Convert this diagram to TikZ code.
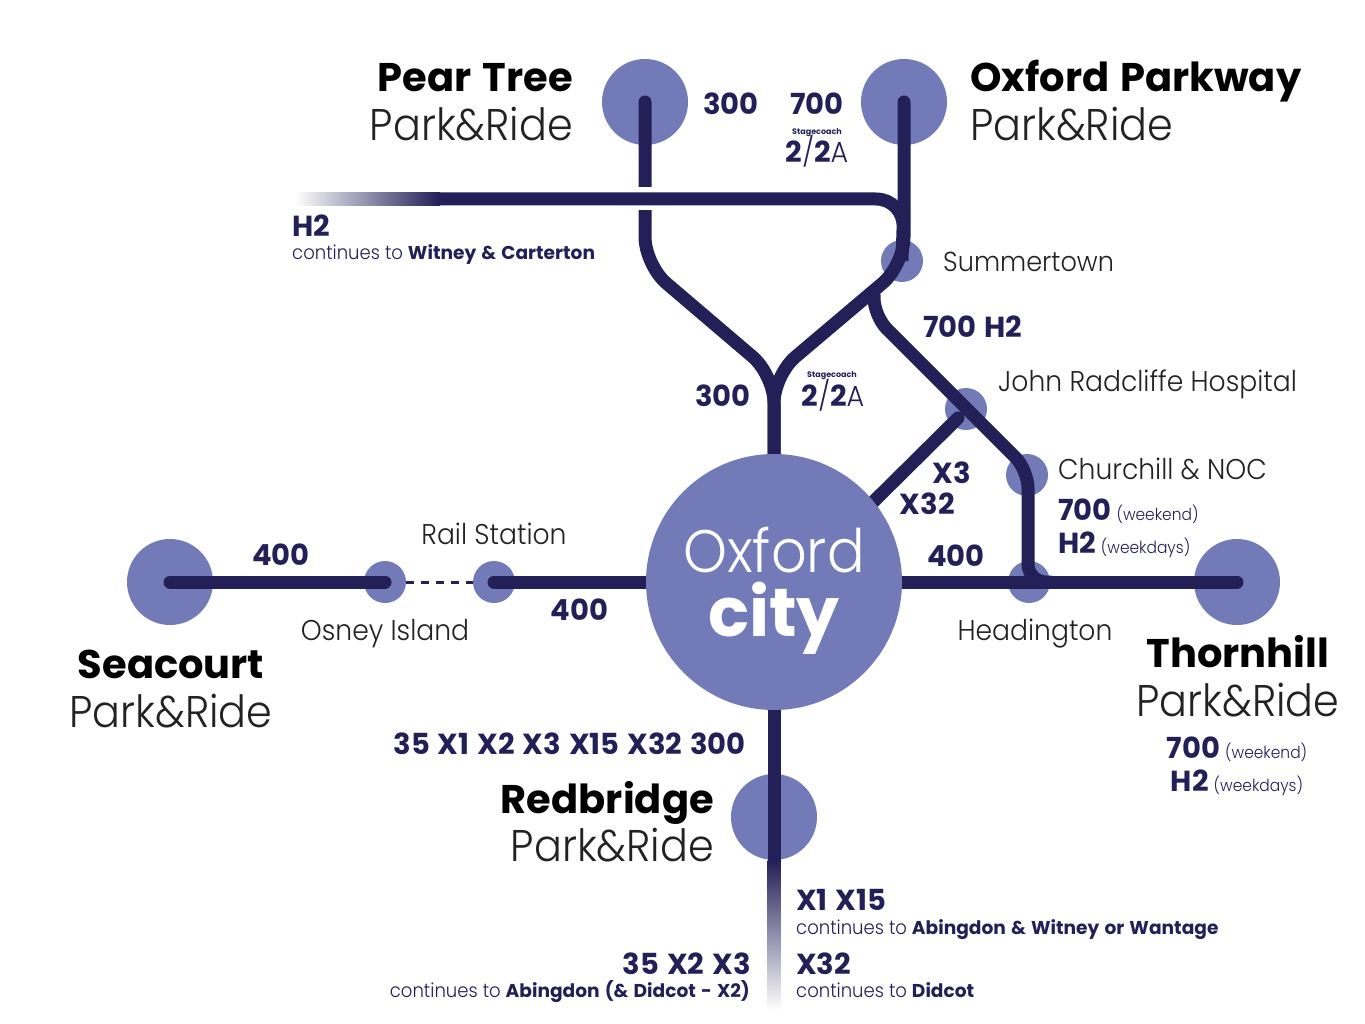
\documentclass[tikz,border=0pt]{standalone}
\usepackage{fontspec}
\setmainfont{Poppins}[UprightFont=*-Light,BoldFont=*-Bold,UprightFeatures={FakeStretch=0.93},BoldFeatures={WordSpace=1.3}]
\usetikzlibrary{positioning}
\definecolor{routeblue}{HTML}{231F57}
\definecolor{stopblue}{HTML}{737AB8}
\definecolor{labelgrey}{HTML}{222222}
\tikzset{
	stop/.style={circle,fill=stopblue,inner sep=0pt,minimum size=42pt},
	parkride/.style={circle,fill=stopblue,inner sep=0pt,minimum size=86pt},
	route/.style={line width=13pt,draw=routeblue,line cap=round,rounded corners=28pt},
	routelabel/.style={text=routeblue,font=\fontsize{29}{30}\selectfont\bfseries,inner sep=0pt},
	stoplabel/.style={text=labelgrey,font=\fontsize{28.6}{30}\selectfont,inner sep=0pt},
	prname/.style={text=black,font=\fontsize{40}{42}\selectfont\bfseries,inner sep=0pt},
	prsub/.style={text=labelgrey,font=\fontsize{44.4}{46}\selectfont,inner sep=0pt},
	smalllabel/.style={text=routeblue,font=\fontsize{19.4}{22}\selectfont,inner sep=0pt},
	coachlabel/.style={text=routeblue,font=\fontsize{8}{9}\selectfont\bfseries,inner sep=0pt}
}
\newcommand{\whentext}[1]{\hspace{-3pt}{\fontsize{16.6}{18}\selectfont\mdseries #1}}
\newcommand{\placename}[1]{{\fontsize{18.6}{22}\selectfont\bfseries #1}}
\newcommand{\coachno}{2{\mdseries/}2{\mdseries A}}
\begin{document}
\begin{tikzpicture}[x=1pt, y=-1pt]
	\useasboundingbox (0,0) rectangle (1365,1024);
	% stops
	\begin{scope}
		\node[parkride] (peartree) at (645,102) {};
		\node[parkride] (parkway) at (904,102) {};
		\node[parkride] (seacourt) at (170,582) {};
		\node[parkride] (thornhill) at (1237,582) {};
		\node[parkride] (redbridge) at (774,817) {};
		\node[stop] (summertown) at (902,261) {};
		\node[stop] (jr) at (966,409) {};
		\node[stop] (churchill) at (1027,475) {};
		\node[stop] (headington) at (1029,582) {};
		\node[stop] (osney) at (385,582) {};
		\node[stop] (rail) at (494,582) {};
	\end{scope}
	% bends
	\coordinate (a1) at (645,265);
	\coordinate (merge) at (774,375);
	\coordinate (a2) at (904,265);
	\coordinate (split) at (874,295);
	\coordinate (b1) at (874,316);
	\coordinate (b2) at (1028,470);
	\coordinate (b3) at (1028,582);
	\coordinate (h1) at (904,199);
	\coordinate (h2) at (440,199);
	\coordinate (h3) at (295,192.5);
	\coordinate (h4) at (440,205.5);
	\coordinate (s1) at (767.5,860);
	\coordinate (s2) at (780.5,1010);
	\coordinate (x3) at (958,418);
	\coordinate (south) at (774,862);
	\coordinate (cityn) at (774,470);
	\coordinate (citys) at (774,700);
	\coordinate (cityne) at (865,510);
	\coordinate (cityw) at (660,582);
	\coordinate (citye) at (890,582);
	% routes
	\draw[route] (peartree.center) -- (a1) -- (merge) -- (cityn);
	\draw[route] (parkway.center) -- (a2) -- (merge) -- (cityn);
	\draw[route,rounded corners=18pt] (split) -- (b1) -- (b2) -- (b3) -- (headington.east);
	\draw[route] (x3) -- (cityne);
	\draw[route] (seacourt.center) -- (osney.center);
	\draw[line width=3pt,routeblue,dash pattern=on 8pt off 7pt] (osney.east) -- (rail.west);
	\draw[route] (rail.center) -- (cityw);
	\draw[route] (citye) -- (thornhill.center);
	\draw[route,line cap=butt] (citys) -- (south);
	\shade[top color=routeblue,bottom color=white] (s1) rectangle (s2);
	\draw[white,line width=23pt] (620,199) -- (670,199);
	\shade[left color=white,right color=routeblue] (h3) rectangle (h4);
	\draw[route,line cap=butt] (h2) -- (h1) -- (summertown.center);
	\node[circle,fill=stopblue,inner sep=0pt,minimum size=256pt] (city) at (774,582) {};
	\node[text=white,font=\fontsize{60}{60}\selectfont,anchor=base,inner sep=0pt] (cityname) at (774,572) {Oxford};
	\node[text=white,font=\fontsize{68}{68}\selectfont\bfseries,anchor=base,inner sep=0pt] (citycity) at (774,636) {city};
	% park and ride names
	\node[prname,anchor=base east] (peartreea) at (573,92) {Pear Tree};
	\node[prsub,anchor=base east] (peartreeb) at (573,141) {Park\&Ride};
	\node[prname,anchor=base west] (parkwaya) at (970,92) {Oxford Parkway};
	\node[prsub,anchor=base west] (parkwayb) at (970,141) {Park\&Ride};
	\node[prname,anchor=base] (seacourta) at (171,678) {Seacourt};
	\node[prsub,anchor=base] (seacourtb) at (171,727) {Park\&Ride};
	\node[prname,anchor=base] (thornhilla) at (1238,667) {Thornhill};
	\node[prsub,anchor=base] (thornhillb) at (1238,716) {Park\&Ride};
	\node[prname,anchor=base east] (redbridgea) at (714,813) {Redbridge};
	\node[prsub,anchor=base east] (redbridgeb) at (714,861) {Park\&Ride};
	% stop names
	\node[stoplabel,anchor=base west,font=\fontsize{27.5}{30}\selectfont] (summertownl) at (943,272) {Summertown};
	\node[stoplabel,anchor=base west] (jrl) at (998,391) {John Radcliffe Hospital};
	\node[stoplabel,anchor=base west] (churchilll) at (1058,479) {Churchill \& NOC};
	\node[stoplabel,anchor=base] (headingtonl) at (1035,640) {Headington};
	\node[stoplabel,anchor=base] (raill) at (494,544) {Rail Station};
	\node[stoplabel,anchor=base] (osneyl) at (385,640) {Osney Island};
	% route numbers
	\node[routelabel,anchor=base] (r300a) at (731,115) {300};
	\node[routelabel,anchor=base] (r700a) at (817,115) {700};
	\node[coachlabel,anchor=base] (coacha) at (817,135) {Stagecoach};
	\node[routelabel,anchor=base] (r2a) at (817,163) {\coachno};
	\node[routelabel,anchor=base west] (rh2) at (292,237) {H2};
	\node[smalllabel,anchor=base west] (rh2b) at (292,260) {continues to \placename{Witney \& Carterton}};
	\node[routelabel,anchor=base west] (r700h2) at (923,337) {700 H2};
	\node[routelabel,anchor=base east] (r300b) at (751,406) {300};
	\node[coachlabel,anchor=base] (coachb) at (832,377) {Stagecoach};
	\node[routelabel,anchor=base] (r2b) at (833,406) {\coachno};
	\node[routelabel,anchor=base east] (rx3) at (971,483) {X3};
	\node[routelabel,anchor=base east] (rx32) at (955,514) {X32};
	\node[routelabel,anchor=base] (r400e) at (956,566) {400};
	\node[routelabel,anchor=base west] (r700c) at (1058,520) {700 \whentext{(weekend)}};
	\node[routelabel,anchor=base west] (rh2c) at (1058,553) {H2 \whentext{(weekdays)}};
	\node[routelabel,anchor=base] (r700d) at (1237,758) {700 \whentext{(weekend)}};
	\node[routelabel,anchor=base] (rh2d) at (1237,791) {H2 \whentext{(weekdays)}};
	\node[routelabel,anchor=base] (r400w) at (281,565) {400};
	\node[routelabel,anchor=base] (r400m) at (579.5,620) {400};
	\node[routelabel,anchor=base east] (rsouth) at (746,754) {35 X1 X2 X3 X15 X32 300};
	\node[routelabel,anchor=base west] (rx1) at (796,910) {X1 X15};
	\node[smalllabel,anchor=base west] (rx1b) at (796,934) {continues to \placename{Abingdon \& Witney or Wantage}};
	\node[routelabel,anchor=base west] (rx32b) at (796,974) {X32};
	\node[smalllabel,anchor=base west] (rx32c) at (796,997) {continues to \placename{Didcot}};
	\node[routelabel,anchor=base east] (r35) at (751,974) {35 X2 X3};
	\node[smalllabel,anchor=base east] (r35b) at (750,997) {continues to \placename{Abingdon (\& Didcot - X2)}};
\end{tikzpicture}
\end{document}
